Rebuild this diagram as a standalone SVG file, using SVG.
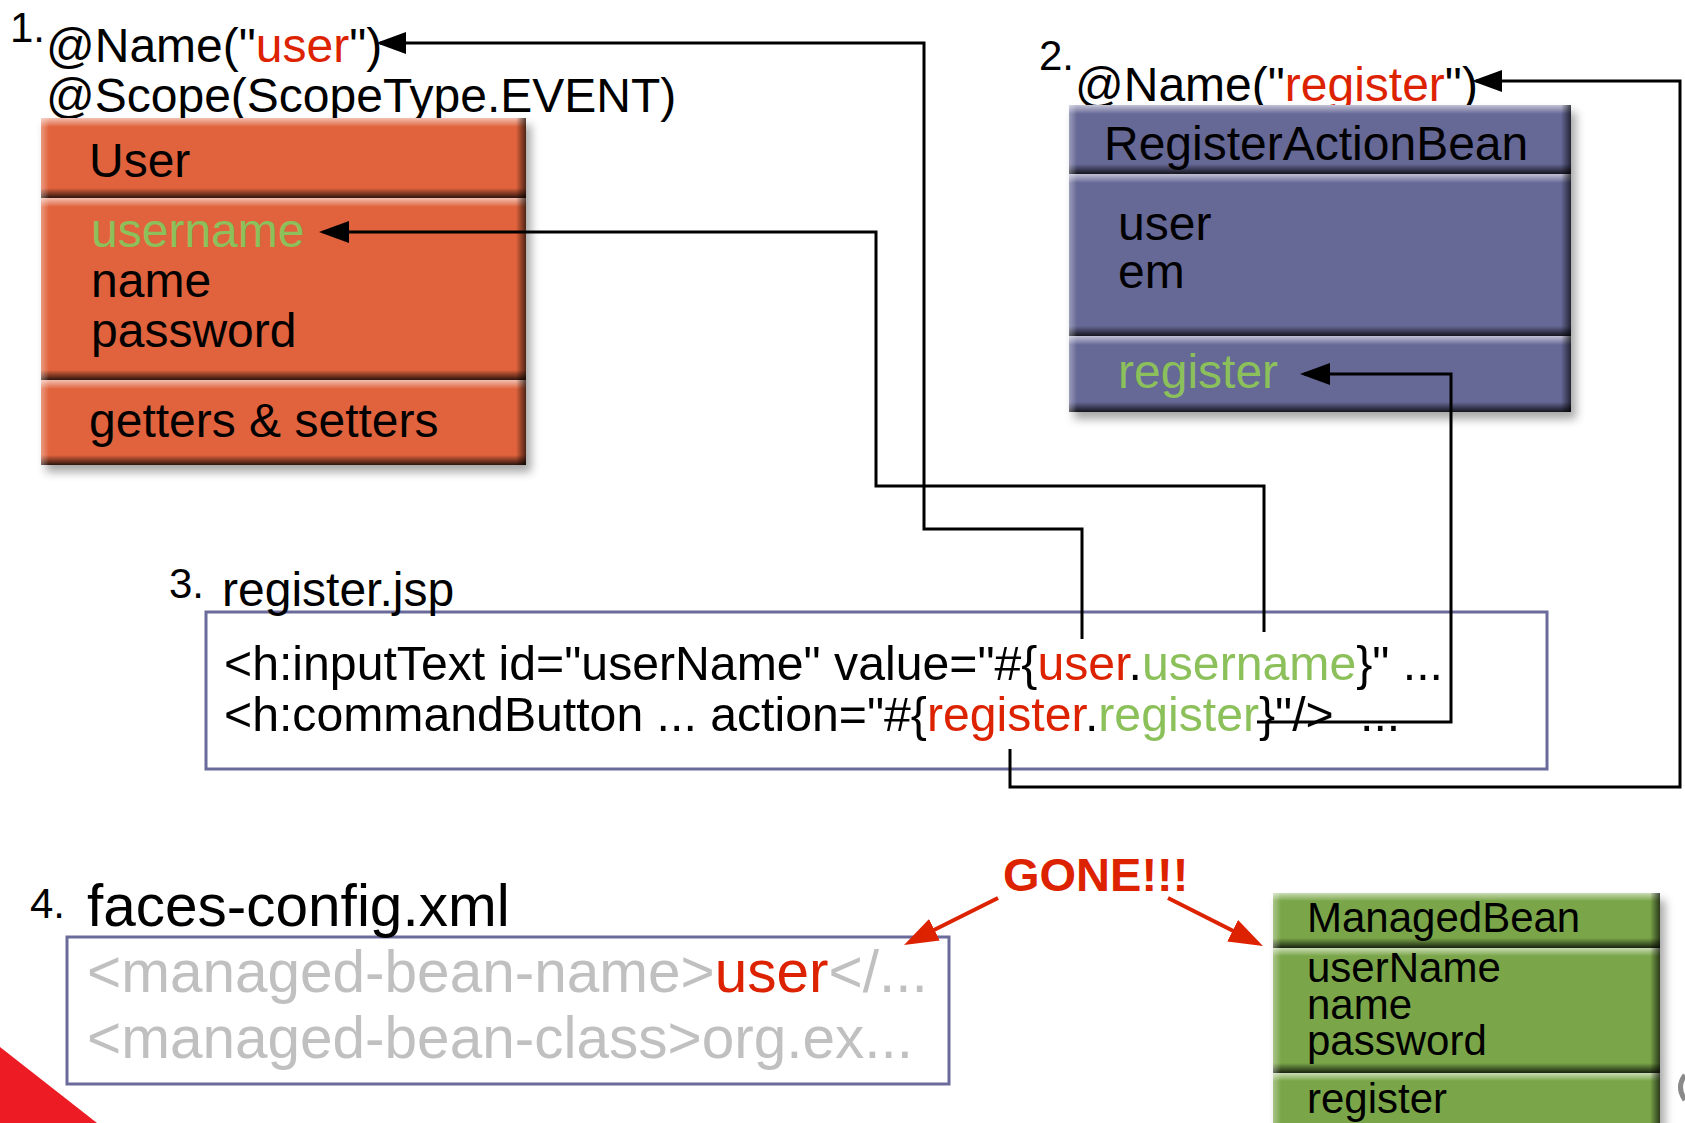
<svg xmlns="http://www.w3.org/2000/svg" width="1685" height="1123" viewBox="0 0 1685 1123">
<style>
  text { font-family: "Liberation Sans", Arial, Helvetica, sans-serif; fill: #000; }
  .t47 { font-size: 48px; }
  .t48 { font-size: 48.2px; }
  .t58 { font-size: 58.5px; }
  .t42 { font-size: 42px; }
  .num { font-size: 42px; }
  .red { fill: #dd2200; }
  .grn { fill: #8cc05a; }
  .gry { fill: #c0c0c0; }
  .gone { font-size: 47px; font-weight: bold; fill: #dd2200; }
  .conn { fill: none; stroke: #000; stroke-width: 3; }
  .rconn { fill: none; stroke: #dd2200; stroke-width: 4; }
  .orange { fill: #e0633d; }
  .purple { fill: #666796; }
  .green { fill: #7aa64a; }
  .frame { fill: #fff; stroke: #6b6b9b; stroke-width: 3; }
  .hT { fill: url(#gT); }
  .hB { fill: url(#gB); }
  .hL { fill: url(#gL); }
  .hR { fill: url(#gR); }
</style>
<defs>
  <linearGradient id="gT" x1="0" y1="0" x2="0" y2="1">
    <stop offset="0" stop-color="#fff" stop-opacity="0.6"/>
    <stop offset="1" stop-color="#fff" stop-opacity="0"/>
  </linearGradient>
  <linearGradient id="gB" x1="0" y1="0" x2="0" y2="1">
    <stop offset="0" stop-color="#000" stop-opacity="0"/>
    <stop offset="1" stop-color="#000" stop-opacity="0.8"/>
  </linearGradient>
  <linearGradient id="gL" x1="0" y1="0" x2="1" y2="0">
    <stop offset="0" stop-color="#fff" stop-opacity="0.35"/>
    <stop offset="1" stop-color="#fff" stop-opacity="0"/>
  </linearGradient>
  <linearGradient id="gR" x1="0" y1="0" x2="1" y2="0">
    <stop offset="0" stop-color="#000" stop-opacity="0"/>
    <stop offset="1" stop-color="#000" stop-opacity="0.65"/>
  </linearGradient>
  <filter id="shadow" x="-10%" y="-10%" width="130%" height="130%">
    <feDropShadow dx="5" dy="7" stdDeviation="5" flood-color="#000" flood-opacity="0.35"/>
  </filter>
  <marker id="ah" markerUnits="userSpaceOnUse" markerWidth="30" markerHeight="22" viewBox="0 0 30 22" refX="26" refY="11" orient="auto">
    <path d="M0,0 L30,11 L0,22 z" fill="#000"/>
  </marker>
  <marker id="rah" markerUnits="userSpaceOnUse" markerWidth="34" markerHeight="24" viewBox="0 0 34 24" refX="28" refY="12" orient="auto">
    <path d="M0,0 L34,12 L0,24 z" fill="#dd2200"/>
  </marker>
</defs>

<rect x="0" y="0" width="1685" height="1123" fill="#fff"/>

<!-- 1. User entity -->
<g id="n-user">
  <text class="num" x="10" y="42">1.</text>
  <text class="t47" x="46" y="62">@Name("<tspan class="red">user</tspan>")</text>
  <text class="t47" x="46" y="112">@Scope(ScopeType.EVENT)</text>
  <g filter="url(#shadow)">
    <rect class="orange" x="41" y="118" width="485" height="80"/>
    <rect class="orange" x="41" y="198" width="485" height="182"/>
    <rect class="orange" x="41" y="380" width="485" height="85"/>
  </g>
  <rect class="hT" x="41" y="118" width="485" height="9"/>
  <rect class="hB" x="41" y="188" width="485" height="10"/>
  <rect class="hL" x="41" y="118" width="8" height="80"/>
  <rect class="hR" x="516" y="118" width="10" height="80"/>
  <rect class="hT" x="41" y="198" width="485" height="9"/>
  <rect class="hB" x="41" y="370" width="485" height="10"/>
  <rect class="hL" x="41" y="198" width="8" height="182"/>
  <rect class="hR" x="516" y="198" width="10" height="182"/>
  <rect class="hT" x="41" y="380" width="485" height="9"/>
  <rect class="hB" x="41" y="455" width="485" height="10"/>
  <rect class="hL" x="41" y="380" width="8" height="85"/>
  <rect class="hR" x="516" y="380" width="10" height="85"/>
  <text class="t47" x="89" y="177">User</text>
  <text class="t47 grn" x="91" y="247">username</text>
  <text class="t47" x="91" y="297">name</text>
  <text class="t47" x="91" y="347">password</text>
  <text class="t47" x="89" y="437">getters &amp; setters</text>
</g>

<!-- 2. RegisterActionBean -->
<g id="n-register">
  <text class="num" x="1039" y="70">2.</text>
  <text class="t47" x="1075" y="101">@Name("<tspan class="red">register</tspan>")</text>
  <g filter="url(#shadow)">
    <rect class="purple" x="1069" y="105" width="502" height="69"/>
    <rect class="purple" x="1069" y="174" width="502" height="162"/>
    <rect class="purple" x="1069" y="336" width="502" height="76"/>
  </g>
  <rect class="hT" x="1069" y="105" width="502" height="9"/>
  <rect class="hB" x="1069" y="164" width="502" height="10"/>
  <rect class="hL" x="1069" y="105" width="8" height="69"/>
  <rect class="hR" x="1561" y="105" width="10" height="69"/>
  <rect class="hT" x="1069" y="174" width="502" height="9"/>
  <rect class="hB" x="1069" y="326" width="502" height="10"/>
  <rect class="hL" x="1069" y="174" width="8" height="162"/>
  <rect class="hR" x="1561" y="174" width="10" height="162"/>
  <rect class="hT" x="1069" y="336" width="502" height="9"/>
  <rect class="hB" x="1069" y="402" width="502" height="10"/>
  <rect class="hL" x="1069" y="336" width="8" height="76"/>
  <rect class="hR" x="1561" y="336" width="10" height="76"/>
  <text class="t47" x="1104" y="160">RegisterActionBean</text>
  <text class="t47" x="1118" y="240">user</text>
  <text class="t47" x="1118" y="288">em</text>
  <text class="t47 grn" x="1118" y="388">register</text>
</g>

<!-- 3. register.jsp -->
<g id="n-jsp">
  <rect class="frame" x="206" y="612" width="1341" height="157"/>
  <text class="num" x="169" y="598">3.</text>
  <text class="t47" x="222" y="606">register.jsp</text>
  <text class="t48" x="224" y="680">&lt;h:inputText id="userName" value="#{<tspan class="red">user</tspan>.<tspan class="grn">username</tspan>}" ...</text>
  <text class="t48" x="224" y="731">&lt;h:commandButton ... action="#{<tspan class="red">register</tspan>.<tspan class="grn">register</tspan>}"/&gt;<tspan x="1360">...</tspan></text>
</g>

<!-- 4. faces-config.xml -->
<g id="n-faces">
  <rect class="frame" x="67" y="937" width="882" height="147"/>
  <text class="num" x="30" y="918">4.</text>
  <text class="t58" x="87" y="926">faces-config.xml</text>
  <text class="t58 gry" x="87" y="992">&lt;managed-bean-name&gt;<tspan class="red">user</tspan>&lt;/...</text>
  <text class="t58 gry" x="87" y="1058">&lt;managed-bean-class&gt;org.ex...</text>
</g>

<!-- GONE label -->
<g id="n-gone">
  <text class="gone" x="1003" y="891">GONE!!!</text>
</g>

<!-- ManagedBean -->
<g id="n-managedbean">
  <g filter="url(#shadow)">
    <rect class="green" x="1273" y="893" width="387" height="55"/>
    <rect class="green" x="1273" y="948" width="387" height="125"/>
    <rect class="green" x="1273" y="1073" width="387" height="70"/>
  </g>
  <rect class="hT" x="1273" y="893" width="387" height="8"/>
  <rect class="hB" x="1273" y="938" width="387" height="10"/>
  <rect class="hL" x="1273" y="893" width="8" height="55"/>
  <rect class="hR" x="1650" y="893" width="10" height="55"/>
  <rect class="hT" x="1273" y="948" width="387" height="8"/>
  <rect class="hB" x="1273" y="1063" width="387" height="10"/>
  <rect class="hL" x="1273" y="948" width="8" height="125"/>
  <rect class="hR" x="1650" y="948" width="10" height="125"/>
  <rect class="hT" x="1273" y="1073" width="387" height="8"/>
  <rect class="hL" x="1273" y="1073" width="8" height="70"/>
  <rect class="hR" x="1650" y="1073" width="10" height="70"/>
  <text class="t42" x="1307" y="932">ManagedBean</text>
  <text class="t42" x="1307" y="982">userName</text>
  <text class="t42" x="1307" y="1019">name</text>
  <text class="t42" x="1307" y="1055">password</text>
  <text class="t42" x="1307" y="1113">register</text>
</g>

<!-- decorative corner -->
<polygon points="0,1047 97,1123 0,1123" fill="#ed1c24"/>
<path d="M1685,1075 Q1676,1087 1685,1100" fill="none" stroke="#8a8a8a" stroke-width="5"/>

<!-- connectors -->
<g id="connectors">
  <path class="conn" d="M1082,639 V529 H924 V43 H380" marker-end="url(#ah)"/>
  <path class="conn" d="M1264,632 V486 H876 V232 H323" marker-end="url(#ah)"/>
  <path class="conn" d="M1257,722 H1451 V374 H1304" marker-end="url(#ah)"/>
  <path class="conn" d="M1010,749 V787 H1680 V81 H1476" marker-end="url(#ah)"/>
  <path class="rconn" d="M998,898 L909.4,942.3" marker-end="url(#rah)"/>
  <path class="rconn" d="M1168,898 L1257.6,943.3" marker-end="url(#rah)"/>
</g>
</svg>
